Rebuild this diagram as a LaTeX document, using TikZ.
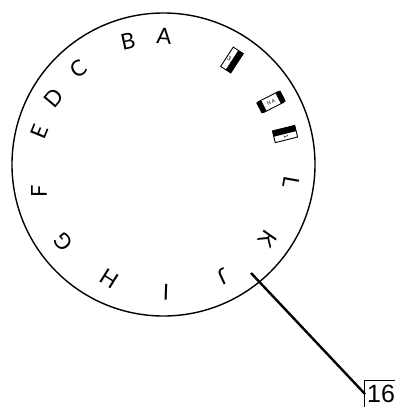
\documentclass[tikz,border=0pt]{standalone}
\usepackage{fontspec}
\setmainfont{Liberation Sans}
\newfontfamily\letterfont{Lato}
\usetikzlibrary{positioning}

\begin{document}
\begin{tikzpicture}[
          x=1pt, y=-1pt,
          letter/.style={font=\letterfont\fontsize{22}{22}\selectfont, inner sep=0pt, text=black},
          chipbox/.style={draw=black, fill=white, line width=0.9pt, minimum width=23pt, minimum height=12pt, inner sep=0pt},
          chipbar/.style={fill=black, inner sep=0pt},
          chiptext/.style={font=\fontsize{6}{6}\selectfont, inner sep=0pt},
          refbox/.style={font=\fontsize{25}{25}\selectfont, inner sep=0pt}
        ]
        \useasboundingbox (0,0) rectangle (395,407);
        \node[draw=black, line width=1.4pt, circle, minimum size=303pt, inner sep=0pt] (wheel) at (163.5,164.5) {};

        \node[letter, rotate=-4] (a) at (164,36) {A};
        \node[letter, rotate=12] (b) at (128,41) {B};
        \node[letter, rotate=35] (c) at (78,69) {C};
        \node[letter, rotate=50] (d) at (54,98) {D};
        \node[letter, rotate=68] (e) at (40,132) {E};
        \node[letter, rotate=90] (f) at (39,191) {F};
        \node[letter, rotate=128] (g) at (63,242) {G};
        \node[letter, rotate=148] (h) at (109,279) {H};
        \node[letter, rotate=178] (i) at (166,292) {I};
        \node[letter, rotate=205] (j) at (223,277) {J};
        \node[letter, rotate=235] (k) at (268,239) {K};
        \node[letter, rotate=260] (l) at (291,182) {L};

        \node[chipbox, rotate=57] (chip3) at (232,60) {};
        \node[chipbar, minimum width=23pt, minimum height=6pt, rotate=57] at (234.5,61.7) {};
        \node[chiptext, rotate=327] (chip3t) at (229.5,58.3) {3};

        \node[chipbox, rotate=27] (chip2) at (271,102) {};
        \node[chipbar, minimum width=5.5pt, minimum height=12pt, rotate=27] at (261.4,106.9) {};
        \node[chipbar, minimum width=5.5pt, minimum height=12pt, rotate=27] at (280.6,97.1) {};
        \node[chiptext, rotate=27, font=\fontsize{5}{5}\selectfont] (chip2t) at (271,102) {N A};

        \node[chipbox, rotate=14] (chip1) at (285,134) {};
        \node[chipbar, minimum width=23pt, minimum height=6pt, rotate=14] at (284.3,131) {};
        \node[chiptext, rotate=284] (chip1t) at (286,137) {1};

        \node[refbox, anchor=west] (ref) at (367,394) {16};
        \coordinate (refcorner) at (365,394);
        \coordinate (leader) at (251,273);
        \draw[line width=2.4pt] (leader) -- (refcorner);
        \draw[line width=1pt] (364.5,407) -- (364.5,380.5) -- (395,380.5);
      \end{tikzpicture}
\end{document}
